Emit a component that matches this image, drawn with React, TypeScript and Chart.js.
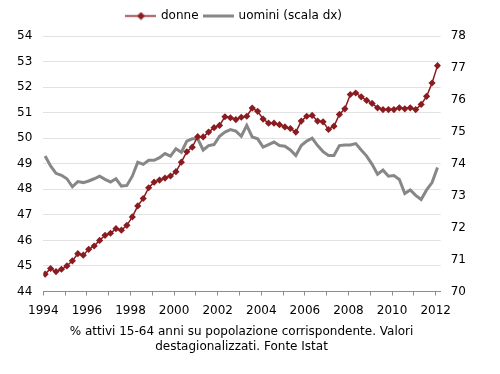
import React, { useEffect, useRef } from 'react';
import { Chart, registerables } from 'chart.js';

Chart.register(...registerables);

// ---- data ----
const START_YEAR = 1994;
const END_YEAR = 2012;
const DONNE_LABEL = 'donne';
const UOMINI_LABEL = 'uomini (scala dx)';

// quarterly values, 1994 Q1 .. 2012 Q1 (left axis)
const donne = [
  44.68, 44.9, 44.78, 44.87, 45.0, 45.2, 45.48, 45.42, 45.65, 45.78,
  46.0, 46.2, 46.28, 46.46, 46.4, 46.59, 46.92, 47.35, 47.64, 48.06,
  48.28, 48.36, 48.44, 48.52, 48.69, 49.06, 49.47, 49.65, 50.06, 50.05,
  50.24, 50.41, 50.5, 50.84, 50.8, 50.73, 50.82, 50.86, 51.18, 51.05,
  50.75, 50.59, 50.59, 50.53, 50.44, 50.38, 50.24, 50.67, 50.86, 50.89,
  50.67, 50.64, 50.34, 50.47, 50.93, 51.15, 51.71, 51.77, 51.62, 51.48,
  51.36, 51.19, 51.12, 51.12, 51.12, 51.19, 51.15, 51.19, 51.12, 51.32,
  51.64, 52.16, 52.84,
];

// quarterly values, 1994 Q1 .. 2012 Q1 (right axis)
const uomini = [
  74.24, 73.93, 73.7, 73.64, 73.53, 73.28, 73.44, 73.41, 73.46, 73.53,
  73.61, 73.51, 73.43, 73.53, 73.3, 73.32, 73.61, 74.05, 73.98, 74.11,
  74.11, 74.19, 74.32, 74.24, 74.47, 74.36, 74.71, 74.78, 74.78, 74.43,
  74.57, 74.6, 74.86, 74.99, 75.07, 75.02, 74.86, 75.2, 74.84, 74.78,
  74.52, 74.6, 74.68, 74.57, 74.55, 74.43, 74.26, 74.57, 74.71, 74.8,
  74.57, 74.38, 74.26, 74.26, 74.57, 74.59, 74.59, 74.63, 74.43, 74.24,
  73.98, 73.67, 73.8, 73.61, 73.63, 73.51, 73.07, 73.18, 73.01, 72.88,
  73.18, 73.41, 73.88,
];

const yearTicks = Array.from({ length: END_YEAR - START_YEAR + 1 }, (_, i) => START_YEAR + i);
const leftRange = { min: 44, max: 54 };
const rightRange = { min: 70, max: 78 };
const caption = [
  '% attivi 15-64 anni su popolazione corrispondente. Valori',
  'destagionalizzati. Fonte Istat',
];

const RED = '#8a1b20';
const GREY = '#878787';
const AXIS = '#8c8c8c';
const GRID = '#e2e2e2';
const FONT = "'DejaVu Sans', Verdana, sans-serif";

function makeSample(kind: 'donne' | 'uomini'): HTMLCanvasElement {
  const c = document.createElement('canvas');
  c.width = 31;
  c.height = 9;
  const g = c.getContext('2d')!;
  g.strokeStyle = kind === 'donne' ? RED : GREY;
  g.lineWidth = kind === 'donne' ? 1.5 : 3;
  g.beginPath();
  g.moveTo(0, 4.5);
  g.lineTo(31, 4.5);
  g.stroke();
  if (kind === 'donne') {
    g.fillStyle = RED;
    g.beginPath();
    g.moveTo(15.5, 0.5);
    g.lineTo(19.5, 4.5);
    g.lineTo(15.5, 8.5);
    g.lineTo(11.5, 4.5);
    g.closePath();
    g.fill();
  }
  return c;
}

const legendExtra = {
  id: 'legendExtra',
  beforeLayout(chart: any) {
    const lg = chart.legend;
    if (lg && !lg.__patched) {
      const origFit = lg.fit.bind(lg);
      lg.fit = function () {
        origFit();
        this.height += 4;
      };
      const origDraw = lg.draw.bind(lg);
      lg.draw = function () {
        const ctx = this.ctx;
        ctx.save();
        ctx.translate(-7, 0);
        origDraw();
        ctx.restore();
      };
      lg.__patched = true;
    }
  },
};

export default function App() {
  const ref = useRef<HTMLCanvasElement>(null);

  useEffect(() => {
    if (!ref.current) return;
    const toPoints = (arr: number[]) =>
      arr.map((v, i) => ({ x: START_YEAR + i / 4 + 1 / 12, y: v }));

    const sampleD = makeSample('donne');
    const sampleU = makeSample('uomini');

    const chart = new Chart(ref.current, {
      type: 'line',
      data: {
        datasets: [
          {
            label: DONNE_LABEL,
            data: toPoints(donne),
            yAxisID: 'y',
            borderColor: RED,
            backgroundColor: RED,
            borderWidth: 1.5,
            pointStyle: 'rectRot',
            pointRadius: 3.6,
            pointBorderWidth: 0,
            pointBackgroundColor: RED,
            tension: 0,
          },
          {
            label: UOMINI_LABEL,
            data: toPoints(uomini),
            yAxisID: 'y2',
            borderColor: GREY,
            backgroundColor: GREY,
            borderWidth: 3,
            pointRadius: 0,
            tension: 0,
          },
        ],
      },
      options: {
        responsive: false,
        animation: false,
        layout: { padding: { top: 4, left: 17, right: 34, bottom: 0 } },
        font: { family: FONT, size: 12 },
        scales: {
          x: {
            type: 'linear',
            min: START_YEAR,
            max: END_YEAR + 0.23,
            afterBuildTicks: (scale: any) => {
              scale.ticks = yearTicks.map((v) => ({ value: v }));
            },
            afterFit: (scale: any) => {
              scale.height = 26.5;
            },
            ticks: {
              autoSkip: false,
              maxRotation: 0,
              padding: 8,
              color: '#000',
              font: { family: FONT, size: 12 },
              callback: (v: any) => (Number(v) % 2 === 0 ? String(v) : ''),
            },
            grid: {
              drawOnChartArea: false,
              drawTicks: true,
              tickLength: 4,
              tickColor: AXIS,
              tickWidth: 1,
            },
            border: { display: true, color: AXIS, width: 1 },
          },
          y: {
            position: 'left',
            min: leftRange.min,
            max: leftRange.max,
            afterFit: (scale: any) => {
              scale.width = 26.3;
            },
            ticks: { stepSize: 1, padding: 11, color: '#000', font: { family: FONT, size: 12 } },
            grid: { color: GRID, drawTicks: false },
            border: { display: false },
          },
          y2: {
            position: 'right',
            min: rightRange.min,
            max: rightRange.max,
            afterFit: (scale: any) => {
              scale.width = 25.3;
            },
            ticks: { stepSize: 1, padding: 10, color: '#000', font: { family: FONT, size: 12 } },
            grid: { drawOnChartArea: false, drawTicks: false },
            border: { display: false },
          },
        },
        plugins: {
          tooltip: { enabled: false },
          legend: {
            position: 'top',
            labels: {
              usePointStyle: true,
              pointStyleWidth: 28,
              padding: 6,
              color: '#000',
              font: { family: FONT, size: 12 },
              generateLabels: () => [
                {
                  text: DONNE_LABEL,
                  pointStyle: sampleD,
                  fillStyle: RED,
                  strokeStyle: RED,
                  lineWidth: 0,
                  hidden: false,
                  datasetIndex: 0,
                  fontColor: '#000',
                },
                {
                  text: UOMINI_LABEL,
                  pointStyle: sampleU,
                  fillStyle: GREY,
                  strokeStyle: GREY,
                  lineWidth: 0,
                  hidden: false,
                  datasetIndex: 1,
                  fontColor: '#000',
                },
              ] as any,
            },
          },
          title: {
            display: true,
            position: 'bottom',
            text: caption,
            color: '#000',
            font: { family: FONT, size: 12, weight: 'normal', lineHeight: 1.25 },
            padding: { top: 6, bottom: 20 },
          },
        },
      } as any,
      plugins: [legendExtra],
    });
    return () => chart.destroy();
  }, []);

  return (
    <div style={{ position: 'fixed', left: 0, top: 0, width: 500, height: 374, background: '#fff' }}>
      <canvas ref={ref} width={500} height={374} style={{ display: 'block' }} />
    </div>
  );
}
